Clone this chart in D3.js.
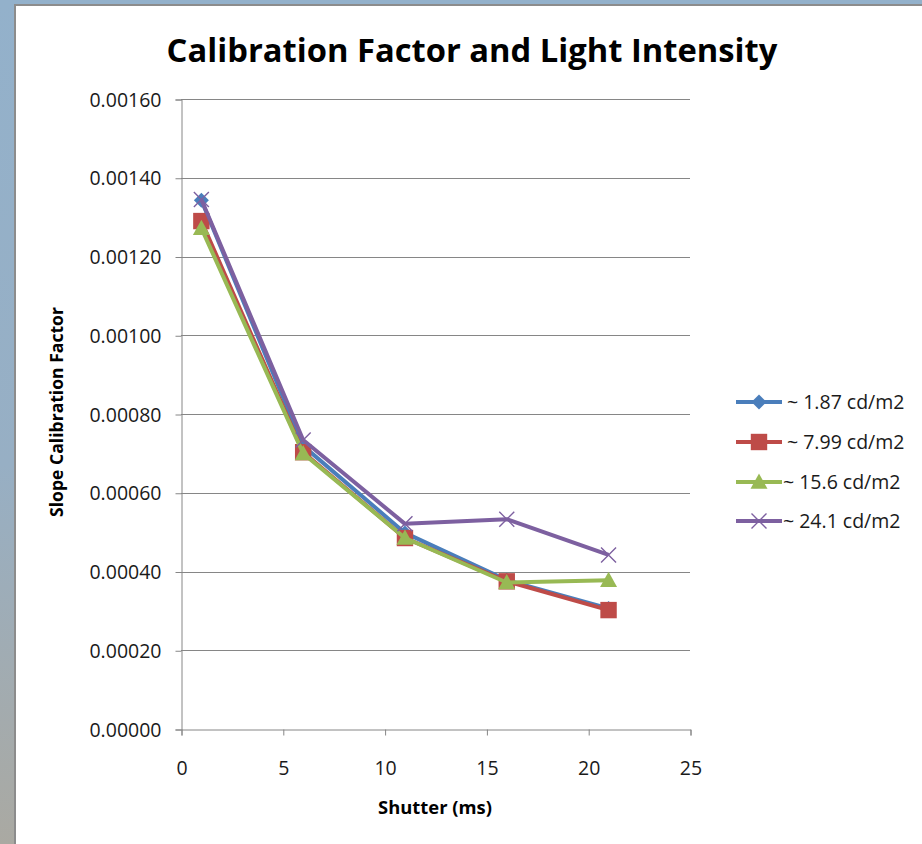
<!DOCTYPE html>
<html><head><meta charset="utf-8">
<script src="https://cdn.jsdelivr.net/npm/d3@7"></script>
<style>html,body{margin:0;padding:0;background:#fff;overflow:hidden}</style>
</head><body>
<svg id="c" width="922" height="844"></svg>
<script>
const shutter = [1, 6, 11, 16, 21];
const seriesNames = ["~ 1.87 cd/m2", "~ 7.99 cd/m2", "~ 15.6 cd/m2", "~ 24.1 cd/m2"];
const s187 = [0.001343, 0.000719, 0.000498, 0.000378, 0.000306];
const s799 = [0.001290, 0.000703, 0.000485, 0.000375, 0.000302];
const s156 = [0.001272, 0.000700, 0.000485, 0.000372, 0.000378];
const s241 = [0.001345, 0.000734, 0.000521, 0.000533, 0.000442];
const yTicks = [0, 0.0002, 0.0004, 0.0006, 0.0008, 0.0010, 0.0012, 0.0014, 0.0016];
const xTicks = [0, 5, 10, 15, 20, 25];

const colors = ["#4A7EBB", "#BE4B48", "#98B954", "#7D60A0"];
const markers = ["diamond", "square", "triangle", "x"];
const seriesVals = [s187, s799, s156, s241];

const svg = d3.select("#c");
const font = "Open Sans, Lato, sans-serif";

// background frame
const defs = svg.append("defs");
const g1 = defs.append("linearGradient").attr("id","bg").attr("x1",0).attr("y1",0).attr("x2",0).attr("y2",1);
g1.append("stop").attr("offset","0%").attr("stop-color","#93B1CB");
g1.append("stop").attr("offset","55%").attr("stop-color","#97AFC4");
g1.append("stop").attr("offset","100%").attr("stop-color","#AAA9A2");
svg.append("rect").attr("width",922).attr("height",844).attr("fill","url(#bg)");
svg.append("rect").attr("x",14).attr("y",4).attr("width",908).attr("height",840).attr("fill","#8C8C8C");
svg.append("rect").attr("x",16).attr("y",6).attr("width",906).attr("height",838).attr("fill","#FFFFFF");

const x = d3.scaleLinear().domain([0, 25]).range([181, 690]);
const y = d3.scaleLinear().domain([0, 0.0016]).range([729, 99]);

// gridlines
svg.append("g").selectAll("line").data(yTicks.filter(d => d > 0)).join("line")
  .attr("x1", x(0)).attr("x2", x(25)).attr("y1", d => Math.round(y(d)) + 0.5).attr("y2", d => Math.round(y(d)) + 0.5)
  .attr("stroke", "#868686").attr("stroke-width", 1);

// axes
const yAxis = d3.axisLeft(y).tickValues(yTicks).tickFormat(d3.format(".5f")).tickSize(6).tickPadding(14);
const ya = svg.append("g").attr("transform", `translate(${x(0)+0.5},0.5)`).call(yAxis);
const xAxis = d3.axisBottom(x).tickValues(xTicks).tickFormat(d3.format("d")).tickSize(6).tickPadding(26);
const xa = svg.append("g").attr("transform", `translate(0.5,${y(0)+0.5})`).call(xAxis);
[ya, xa].forEach(a => {
  a.select(".domain").attr("stroke", "#868686");
  a.selectAll(".tick line").attr("stroke", "#868686");
  a.selectAll("text").attr("font-family", font).attr("font-size", 19.5).attr("fill", "#1a1a1a");
});
ya.selectAll("text").attr("dy", "0.34em");

// marker drawing
function drawMarker(g, type, cx, cy, color) {
  if (type === "diamond") {
    const r = 7.5;
    g.append("path").attr("d", `M${cx},${cy-r}L${cx+r},${cy}L${cx},${cy+r}L${cx-r},${cy}Z`).attr("fill", color);
  } else if (type === "square") {
    const r = 8.2;
    g.append("rect").attr("x", cx-r).attr("y", cy-r).attr("width", 2*r).attr("height", 2*r).attr("fill", color);
  } else if (type === "triangle") {
    const r = 8.5;
    g.append("path").attr("d", `M${cx},${cy-r}L${cx+r},${cy+r*0.8}L${cx-r},${cy+r*0.8}Z`).attr("fill", color);
  } else {
    const r = 7.5;
    g.append("path").attr("d", `M${cx-r},${cy-r}L${cx+r},${cy+r}M${cx-r},${cy+r}L${cx+r},${cy-r}`)
      .attr("stroke", color).attr("stroke-width", 1.4).attr("fill", "none");
  }
}

const line = d3.line().x(d => x(d[0])).y(d => y(d[1]));
const plot = svg.append("g");
seriesVals.forEach((vals, i) => {
  const pts = shutter.map((s, j) => [s, vals[j]]);
  plot.append("path").datum(pts).attr("d", line).attr("fill", "none")
    .attr("stroke", colors[i]).attr("stroke-width", 4).attr("stroke-linejoin", "round");
  pts.forEach(p => drawMarker(plot, markers[i], x(p[0]), y(p[1]), colors[i]));
});

// legend
const legY = [402, 442, 482, 521];
const leg = svg.append("g");
seriesNames.forEach((name, i) => {
  leg.append("line").attr("x1", 736).attr("x2", 782).attr("y1", legY[i]).attr("y2", legY[i])
    .attr("stroke", colors[i]).attr("stroke-width", 4);
  drawMarker(leg, markers[i], 759, legY[i], colors[i]);
  leg.append("text").attr("x", i < 2 ? 787 : 783).attr("y", legY[i]).attr("dy", "0.36em")
    .attr("font-family", font).attr("font-size", 19.5).attr("fill", "#1a1a1a").text(name);
});

function fit(t, w) {
  const len = t.node().getComputedTextLength();
  const fs = parseFloat(t.attr("font-size"));
  t.attr("font-size", fs * w / len);
}

// titles
const title = svg.append("text").attr("x", 472).attr("y", 62).attr("text-anchor", "middle")
  .attr("font-family", font).attr("font-weight", "bold").attr("font-size", 30).attr("fill", "#000")
  .text("Calibration Factor and Light Intensity");
fit(title, 611);

const yt = svg.append("text").attr("transform", "translate(63,412) rotate(-90)").attr("text-anchor", "middle")
  .attr("font-family", font).attr("font-weight", "bold").attr("font-size", 15).attr("fill", "#000")
  .text("Slope Calibration Factor");
fit(yt, 210);

const xt = svg.append("text").attr("x", 435).attr("y", 814).attr("text-anchor", "middle")
  .attr("font-family", font).attr("font-weight", "bold").attr("font-size", 15).attr("fill", "#000")
  .text("Shutter (ms)");
fit(xt, 114);
</script>
</body></html>
